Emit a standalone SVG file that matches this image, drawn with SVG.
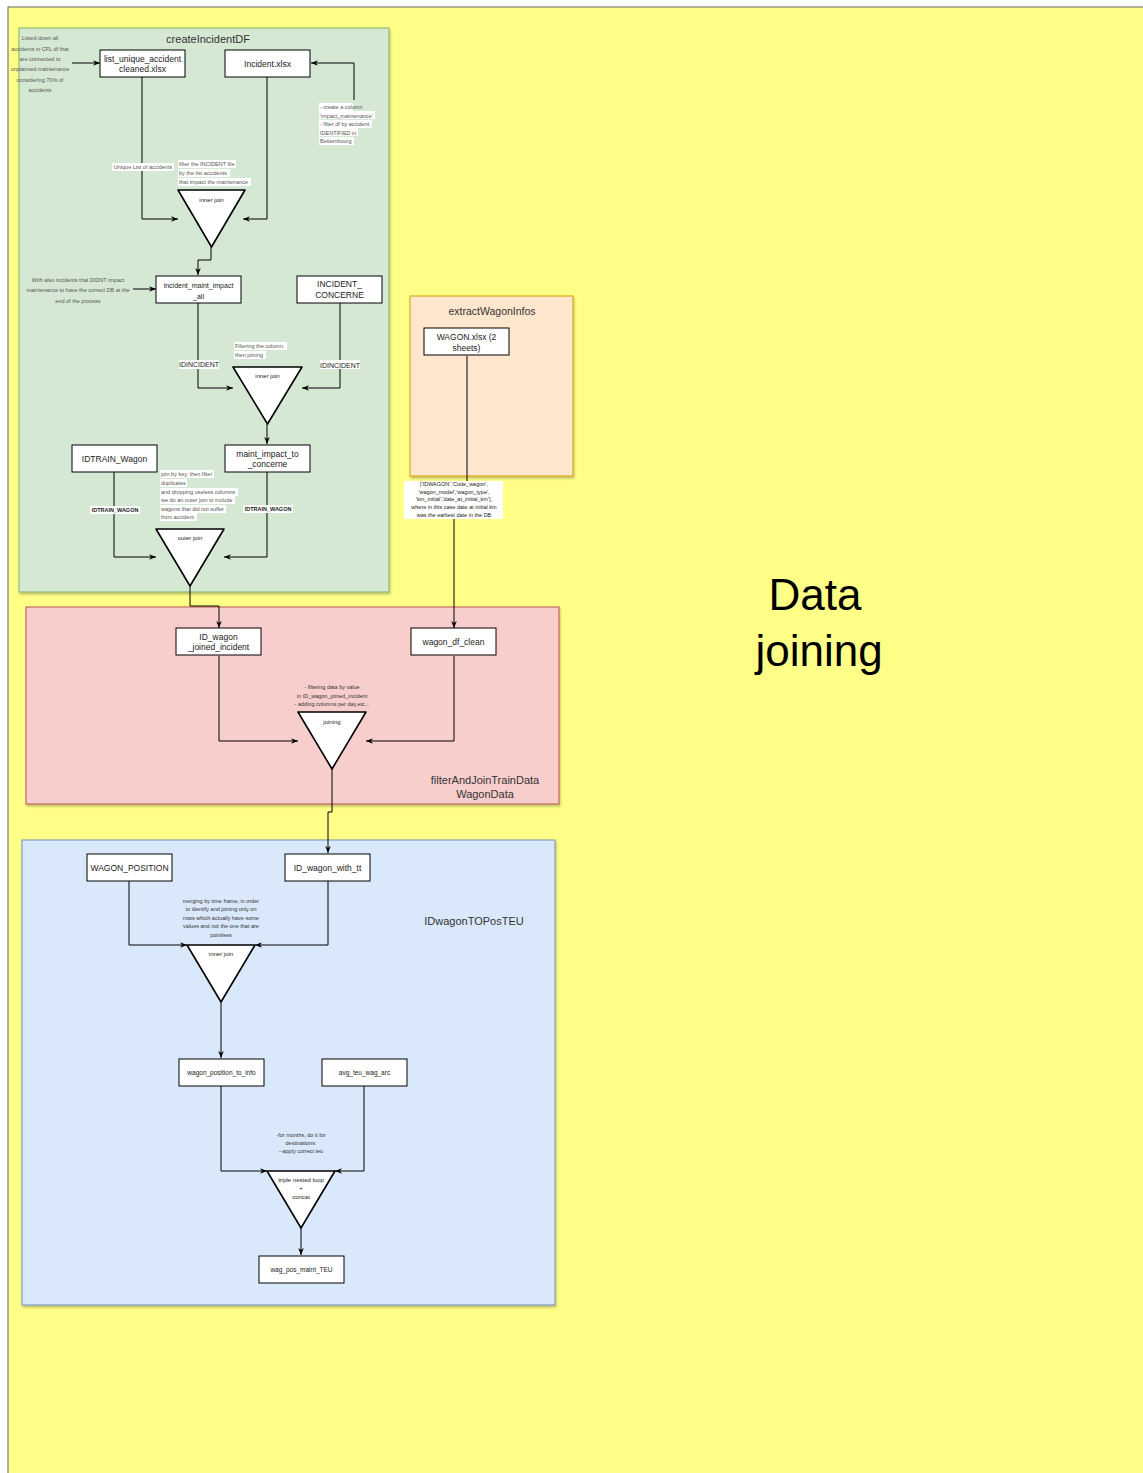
<svg xmlns="http://www.w3.org/2000/svg" width="1143" height="1473" viewBox="0 0 1143 1473">
<defs>
<marker id="ah" viewBox="0 0 10 10" refX="10" refY="5" markerWidth="7" markerHeight="7" markerUnits="userSpaceOnUse" orient="auto"><path d="M0,1 L10,5 L0,9 L3,5 z" fill="#000"/></marker>
<filter id="sh" x="-10%" y="-10%" width="130%" height="140%"><feDropShadow dx="1" dy="2" stdDeviation="0.8" flood-color="#000" flood-opacity="0.25"/></filter>
</defs>
<style>
text{font-family:"Liberation Sans",Arial,sans-serif;text-anchor:middle;dominant-baseline:central;fill:#222}
.node rect{fill:#fff;stroke:#000;stroke-width:1}
.n9{font-size:8.5px}
.n7{font-size:7px}
.n65{font-size:6.5px}
.tri{fill:#fff;stroke:#000;stroke-width:1.6;stroke-linejoin:round}
.tl{font-size:6px}
.cont-title{font-size:11px;fill:#333}
.ann{font-size:5.5px;fill:#555}
.annl{font-size:5.5px;fill:#555;text-anchor:start}
.bg{fill:#fff}
.edge{fill:none;stroke:#000;stroke-width:1;marker-end:url(#ah)}
.line{fill:none;stroke:#000;stroke-width:1}
.el{font-size:7px;fill:#222}
.elb{font-size:5.5px;font-weight:bold;fill:#222}
</style>
<!-- background -->
<rect x="8" y="7" width="1140" height="1470" fill="#ffff88" stroke="#666" stroke-width="1"/>
<text x="815" y="594" style="font-size:44px;fill:#000">Data</text>
<text x="819" y="650" style="font-size:44px;fill:#000">joining</text>

<!-- containers -->
<g id="createIncidentDF">
<rect x="19" y="28" width="370" height="564" fill="#d5e8d4" stroke="#82b366" filter="url(#sh)"/>
<text class="cont-title" x="208" y="39">createIncidentDF</text>
</g>
<g id="extractWagonInfos">
<rect x="410" y="296" width="163" height="180" fill="#ffe6cc" stroke="#d79b00" filter="url(#sh)"/>
<text class="cont-title" x="492" y="311" style="font-size:10.5px">extractWagonInfos</text>
</g>
<g id="filterAndJoinTrainDataWagonData">
<rect x="26" y="607" width="533" height="197" fill="#f8cecc" stroke="#b85450" filter="url(#sh)"/>
<text class="cont-title" x="485" y="780">filterAndJoinTrainData</text>
<text class="cont-title" x="485" y="794">WagonData</text>
</g>
<g id="IDwagonTOPosTEU">
<rect x="22" y="840" width="533" height="465" fill="#dae8fc" stroke="#6c8ebf" filter="url(#sh)"/>
<text class="cont-title" x="474" y="921">IDwagonTOPosTEU</text>
</g>

<!-- connectors -->
<g id="connectors">
<path class="edge" d="M72,63 L100,63"/>
<path class="edge" d="M354,100 L354,63 L311,63"/>
<path class="edge" d="M142,77 L142,219 L178,219"/>
<path class="edge" d="M267,77 L267,219 L243,219"/>
<path class="edge" d="M211,247 L211,260 L198,260 L198,275"/>
<path class="edge" d="M133,289 L156,289"/>
<path class="edge" d="M198,303 L198,388 L233,388"/>
<path class="edge" d="M340,303 L340,388 L302,388"/>
<path class="edge" d="M267,424 L267,444"/>
<path class="edge" d="M114,472 L114,557 L156,557"/>
<path class="edge" d="M267,472 L267,557 L224,557"/>
<path class="edge" d="M190,586 L190,606 L219,606 L219,628"/>
<path class="edge" d="M467,356 L467,500 L454,500 L454,628"/>
<path class="edge" d="M219,656 L219,741 L298,741"/>
<path class="edge" d="M454,656 L454,741 L366,741"/>
<path class="edge" d="M332,769 L332,812 L328,812 L328,853"/>
<path class="edge" d="M129,881 L129,945 L187,945"/>
<path class="edge" d="M328,881 L328,945 L255,945"/>
<path class="edge" d="M221,1002 L221,1058"/>
<path class="edge" d="M221,1086 L221,1171 L267,1171"/>
<path class="edge" d="M364,1086 L364,1171 L335,1171"/>
<path class="edge" d="M301,1228 L301,1255"/>
<!-- edge labels -->
<rect class="bg" x="112" y="163" width="62" height="8"/>
<text class="ann" x="143" y="167">Unique List of accidents</text>
<rect class="bg" x="179" y="360" width="40" height="9"/>
<text class="el" x="199" y="364">IDINCIDENT</text>
<rect class="bg" x="320" y="360" width="40" height="9"/>
<text class="el" x="340" y="365">IDINCIDENT</text>
<rect class="bg" x="90" y="506" width="50" height="8"/>
<text class="elb" x="115" y="510">IDTRAIN_WAGON</text>
<rect class="bg" x="243" y="505" width="50" height="8"/>
<text class="elb" x="268" y="509">IDTRAIN_WAGON</text>
<rect class="bg" x="404" y="481" width="99" height="38"/>
<text class="ann" x="454" y="484" style="fill:#222">['IDWAGON','Code_wagon',</text>
<text class="ann" x="454" y="492" style="fill:#222">'wagon_model','wagon_type',</text>
<text class="ann" x="454" y="499" style="fill:#222">'km_initial','date_at_initial_km'],</text>
<text class="ann" x="454" y="507" style="fill:#222">where in this case date at initial km</text>
<text class="ann" x="454" y="515" style="fill:#222">was the earliest date in the DB</text>
</g>

<!-- annotations -->
<g id="ann-listed">
<text class="ann" x="40" y="38">Listed down all</text>
<text class="ann" x="40" y="49">accidents in CFL df that</text>
<text class="ann" x="40" y="59">are connected to</text>
<text class="ann" x="40" y="69">unplanned maintenance</text>
<text class="ann" x="40" y="80">considering 70% of</text>
<text class="ann" x="40" y="90">accidents</text>
</g>
<g id="ann-create">
<rect class="bg" x="319" y="103" width="34" height="8"/>
<rect class="bg" x="319" y="111" width="56" height="8"/>
<rect class="bg" x="319" y="120" width="53" height="8"/>
<rect class="bg" x="319" y="128" width="39" height="8"/>
<rect class="bg" x="319" y="137" width="35" height="8"/>
<text class="annl" x="320" y="107">- create a column</text>
<text class="annl" x="320" y="115.5">'impact_maintenance'</text>
<text class="annl" x="320" y="124">- filter df by accident</text>
<text class="annl" x="320" y="132.5">IDENTIFIED in</text>
<text class="annl" x="320" y="141">Bettembourg</text>
</g>
<g id="ann-filter">
<rect class="bg" x="178" y="160" width="58" height="8"/>
<rect class="bg" x="178" y="169" width="52" height="8"/>
<rect class="bg" x="178" y="178" width="73" height="8"/>
<text class="annl" x="179" y="164">filter the INCIDENT file</text>
<text class="annl" x="179" y="173">by the list accidents</text>
<text class="annl" x="179" y="182">that impact the maintenance</text>
</g>
<g id="ann-with">
<text class="ann" x="78" y="280">With also incidents that DIDNT impact</text>
<text class="ann" x="78" y="290">maintenance to have the correct DB at the</text>
<text class="ann" x="78" y="301">end of the process</text>
</g>
<g id="ann-filtering">
<rect class="bg" x="234" y="342" width="53" height="8"/>
<rect class="bg" x="234" y="351" width="32" height="8"/>
<text class="annl" x="235" y="346">Filtering the column,</text>
<text class="annl" x="235" y="355">then joining</text>
</g>
<g id="ann-joinkey">
<rect class="bg" x="160" y="470" width="54" height="8"/>
<rect class="bg" x="160" y="479" width="27" height="8"/>
<rect class="bg" x="160" y="488" width="78" height="8"/>
<rect class="bg" x="160" y="496" width="75" height="8"/>
<rect class="bg" x="160" y="505" width="66" height="8"/>
<rect class="bg" x="160" y="513" width="37" height="8"/>
<text class="annl" x="161" y="474">join by key, then filter</text>
<text class="annl" x="161" y="483">duplicates</text>
<text class="annl" x="161" y="492">and dropping useless columns</text>
<text class="annl" x="161" y="500">we do an outer join to include</text>
<text class="annl" x="161" y="509">wagons that did not suffer</text>
<text class="annl" x="161" y="517">from accident</text>
</g>
<g id="ann-filtering-data">
<text class="ann" x="332" y="687" style="fill:#333">- filtering data by value</text>
<text class="ann" x="332" y="696" style="fill:#333">in ID_wagon_joined_incident</text>
<text class="ann" x="332" y="704" style="fill:#333">- adding columns per day,etc...</text>
</g>
<g id="ann-merging">
<text class="ann" x="221" y="901" style="fill:#333">merging by time frame, in order</text>
<text class="ann" x="221" y="909" style="fill:#333">to identify and joining only on</text>
<text class="ann" x="221" y="918" style="fill:#333">rows which actually have some</text>
<text class="ann" x="221" y="926" style="fill:#333">values and not the one that are</text>
<text class="ann" x="221" y="935" style="fill:#333">pointless</text>
</g>
<g id="ann-months">
<text class="ann" x="301" y="1135" style="fill:#333">-for months, do it for</text>
<text class="ann" x="301" y="1143" style="fill:#333">destinations:</text>
<text class="ann" x="301" y="1151" style="fill:#333">--apply correct teu</text>
</g>

<!-- nodes -->
<g id="list_unique_accident" class="node">
<rect x="100" y="50" width="85" height="27"/>
<text class="n9" x="142.5" y="59">list_unique_accident</text>
<text class="n9" x="142.5" y="69">cleaned.xlsx</text>
</g>
<g id="incident_xlsx" class="node">
<rect x="225" y="50" width="85" height="27"/>
<text class="n9" x="267.5" y="63.5">Incident.xlsx</text>
</g>
<g id="inner_join_1">
<path class="tri" d="M178,190 L245,190 L211.5,247 Z"/>
<text class="tl" x="211.5" y="200">inner join</text>
</g>
<g id="incident_maint_impact_all" class="node">
<rect x="156" y="276" width="85" height="27"/>
<text class="n7" x="198.5" y="285">incident_maint_impact</text>
<text class="n7" x="198.5" y="296">_all</text>
</g>
<g id="incident_concerne" class="node">
<rect x="297" y="276" width="85" height="27"/>
<text class="n9" x="339.5" y="284">INCIDENT_</text>
<text class="n9" x="339.5" y="295">CONCERNE</text>
</g>
<g id="inner_join_2">
<path class="tri" d="M233,367 L302,367 L267.5,424 Z"/>
<text class="tl" x="267.5" y="376">inner join</text>
</g>
<g id="maint_impact_to_concerne" class="node">
<rect x="225" y="445" width="85" height="27"/>
<text class="n9" x="267.5" y="454">maint_impact_to</text>
<text class="n9" x="267.5" y="464">_concerne</text>
</g>
<g id="idtrain_wagon" class="node">
<rect x="72" y="445" width="85" height="27"/>
<text class="n9" x="114.5" y="458.5">IDTRAIN_Wagon</text>
</g>
<g id="outer_join">
<path class="tri" d="M156,529 L224,529 L190,586 Z"/>
<text class="tl" x="190" y="538">outer join</text>
</g>
<g id="wagon_xlsx" class="node">
<rect x="424" y="328" width="85" height="27"/>
<text class="n9" x="466.5" y="337">WAGON.xlsx (2</text>
<text class="n9" x="466.5" y="347.5">sheets)</text>
</g>
<g id="id_wagon_joined_incident" class="node">
<rect x="176" y="628" width="85" height="27"/>
<text class="n9" x="218.5" y="636.5">ID_wagon</text>
<text class="n9" x="218.5" y="647">_joined_incident</text>
</g>
<g id="wagon_df_clean" class="node">
<rect x="411" y="628" width="85" height="27"/>
<text class="n9" x="453.5" y="642">wagon_df_clean</text>
</g>
<g id="joining">
<path class="tri" d="M298,712 L366,712 L332,769 Z"/>
<text class="tl" x="332" y="722">joining</text>
</g>
<g id="wagon_position" class="node">
<rect x="87" y="854" width="85" height="27"/>
<text class="n9" x="129.5" y="867.5">WAGON_POSITION</text>
</g>
<g id="id_wagon_with_tt" class="node">
<rect x="285" y="854" width="85" height="27"/>
<text class="n9" x="327.5" y="867.5">ID_wagon_with_tt</text>
</g>
<g id="inner_join_3">
<path class="tri" d="M187,945 L255,945 L221,1002 Z"/>
<text class="tl" x="221" y="954">inner join</text>
</g>
<g id="wagon_position_to_info" class="node">
<rect x="179" y="1059" width="85" height="27"/>
<text class="n65" x="221.5" y="1072.5">wagon_position_to_info</text>
</g>
<g id="avg_teu_wag_arc" class="node">
<rect x="322" y="1059" width="85" height="27"/>
<text class="n65" x="364.5" y="1072.5">avg_teu_wag_arc</text>
</g>
<g id="triple_nested_loop">
<path class="tri" d="M267,1171 L335,1171 L301,1228 Z"/>
<text class="tl" x="301" y="1180">triple nested loop</text>
<text class="tl" x="301" y="1188">+</text>
<text class="tl" x="301" y="1197">concat</text>
</g>
<g id="wag_pos_maint_TEU" class="node">
<rect x="259" y="1256" width="85" height="27"/>
<text class="n65" x="301.5" y="1269.5">wag_pos_maint_TEU</text>
</g>
</svg>
